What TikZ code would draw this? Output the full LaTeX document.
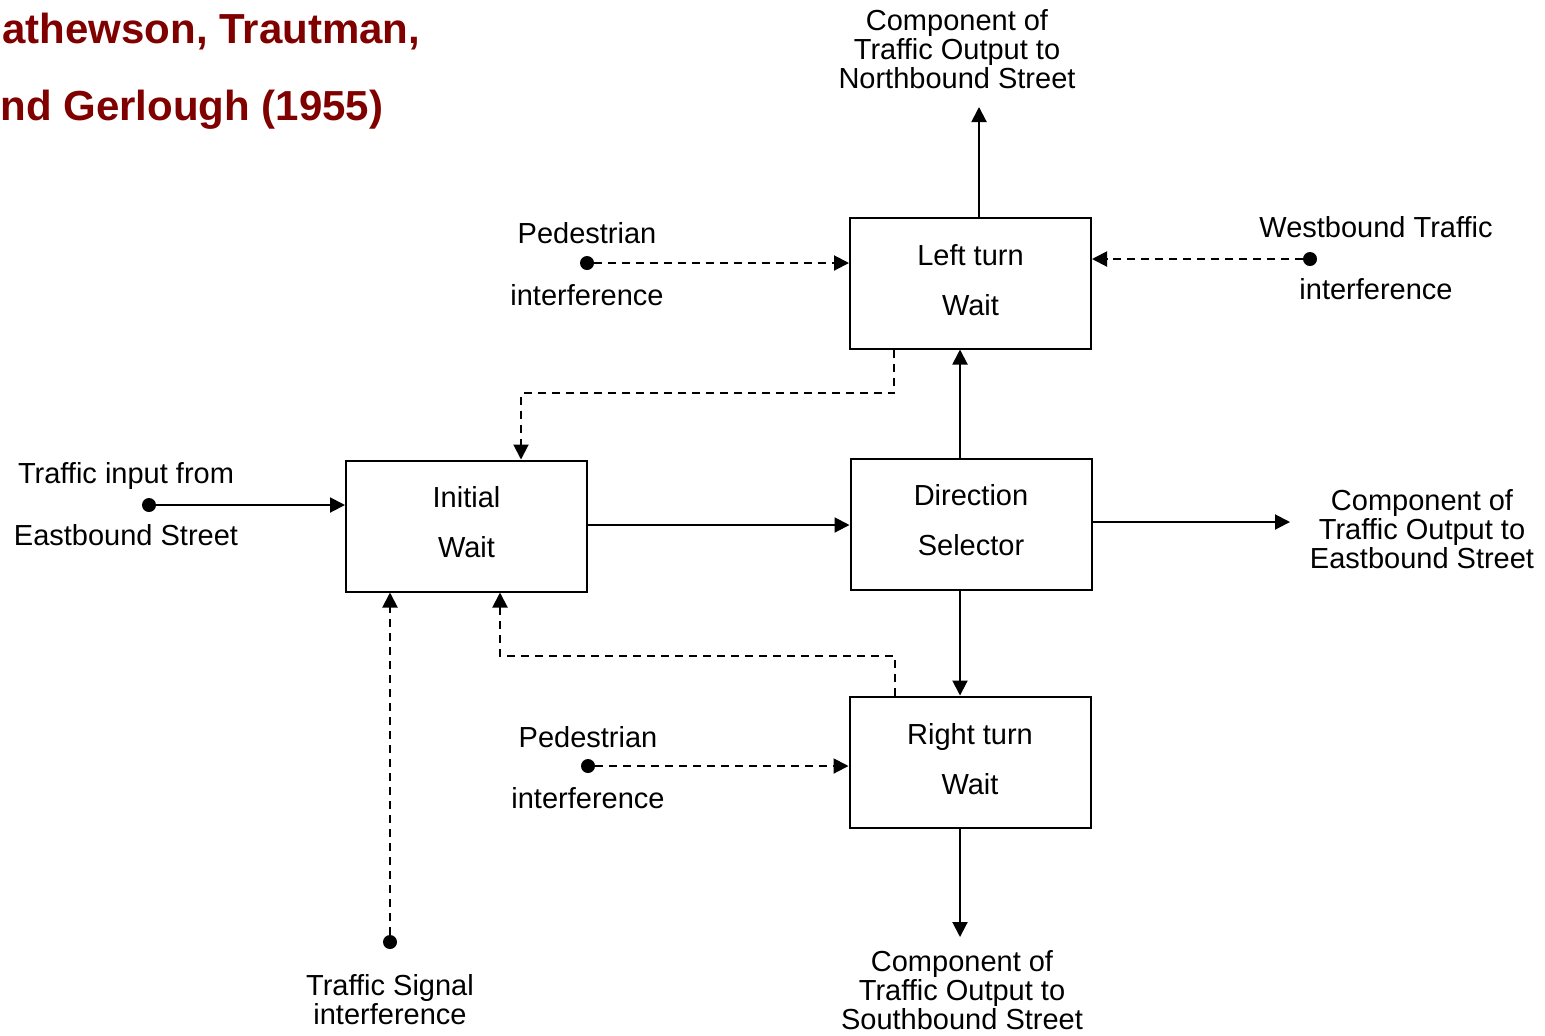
\documentclass[tikz,border=0pt]{standalone}
\usepackage{fontspec}
\setmainfont{Liberation Sans}
\usetikzlibrary{arrows.meta}
\definecolor{titlered}{RGB}{128,0,0}
\begin{document}
\begin{tikzpicture}[x=0.5pt,y=-0.5pt,
 box/.style={draw,line width=1pt,minimum width=120.5pt,minimum height=65.5pt,inner sep=0pt,align=center,font=\fontsize{14.5}{25}\selectfont},
 lbl/.style={inner sep=0pt,align=center,font=\fontsize{14.5}{14.5}\selectfont},
 dot/.style={circle,fill,inner sep=0pt,minimum size=7pt},
 flow/.style={line width=1pt,-{Triangle[length=7.5pt,width=7.5pt]}},
 intf/.style={flow,dash pattern=on 4pt off 3pt},
 titletext/.style={inner sep=0pt,anchor=base west,text=titlered,font=\fontsize{21}{21}\selectfont\bfseries}]

\useasboundingbox[fill=white] (0,0) rectangle (1545,1035);

% title
\node[titletext] (t1) at (2,43) {athewson, Trautman,};
\node[titletext] (t2) at (0,120) {nd Gerlough (1955)};

% boxes
\node[box] (lt) at (970.5,283) {};
\node[box] (iw) at (466.5,526) {};
\node[box] (ds) at (971,524) {};
\node[box] (rt) at (970,762) {};
\node[box,draw=none] (ltt) at (970.5,280) {Left turn\\Wait};
\node[box,draw=none] (iwt) at (466.5,522) {Initial\\Wait};
\node[box,draw=none] (dst) at (971,520) {Direction\\Selector};
\node[box,draw=none] (rtt) at (970,759) {Right turn\\Wait};

% dots
\node[dot] (p1) at (587,263) {};
\node[dot] (wb) at (1310,259) {};
\node[dot] (ti) at (149,505) {};
\node[dot] (ts) at (390,942) {};
\node[dot] (p2) at (588,766) {};

% free ends and bends
\coordinate (nout) at (979,107);
\coordinate (eout) at (1290,522);
\coordinate (sout) at (960,937);
\coordinate (c1) at (960,0);
\coordinate (m) at (0,525);
\coordinate (a1) at (894,393);
\coordinate (a2) at (521,393);
\coordinate (b1) at (895,656);
\coordinate (b2) at (500,656);

% solid flows
\draw[flow] (lt.north -| nout) -- (nout);
\draw[flow] (ds.north -| c1) -- (lt.south -| c1);
\draw[flow] (ti) -- (ti -| iw.west);
\draw[flow] (iw.east |- m) -- (ds.west |- m);
\draw[flow] (ds.east |- eout) -- (eout);
\draw[flow] (ds.south -| c1) -- (rt.north -| c1);
\draw[flow] (rt.south -| sout) -- (sout);

% dashed interference
\draw[intf] (p1) -- (p1 -| lt.west);
\draw[intf] (wb) -- (wb -| lt.east);
\draw[intf] (lt.south -| a1) -- (a1) -- (a2) -- (a2 |- iw.north);
\draw[intf] (rt.north -| b1) -- (b1) -- (b2) -- (b2 |- iw.south);
\draw[intf] (ts) -- (ts |- iw.south);
\draw[intf] (p2) -- (p2 -| rt.west);

% labels
\node[lbl] (nlab) at (957,49) {Component of\\Traffic Output to\\Northbound Street};
\node[lbl] (elab) at (1422,529) {Component of\\Traffic Output to\\Eastbound Street};
\node[lbl] (slab) at (962,990) {Component of\\Traffic Output to\\Southbound Street};
\node[lbl] (p1a) at (587,233) {Pedestrian};
\node[lbl] (p1b) at (587,295) {interference};
\node[lbl] (wba) at (1376,227) {Westbound Traffic};
\node[lbl] (wbb) at (1376,289) {interference};
\node[lbl] (tia) at (126,476) {Traffic input from};
\node[lbl] (tib) at (126,535) {Eastbound Street};
\node[lbl] (p2a) at (588,737) {Pedestrian};
\node[lbl] (p2b) at (588,798) {interference};
\node[lbl] (tsl) at (390,1000) {Traffic Signal\\interference};
\end{tikzpicture}
\end{document}
